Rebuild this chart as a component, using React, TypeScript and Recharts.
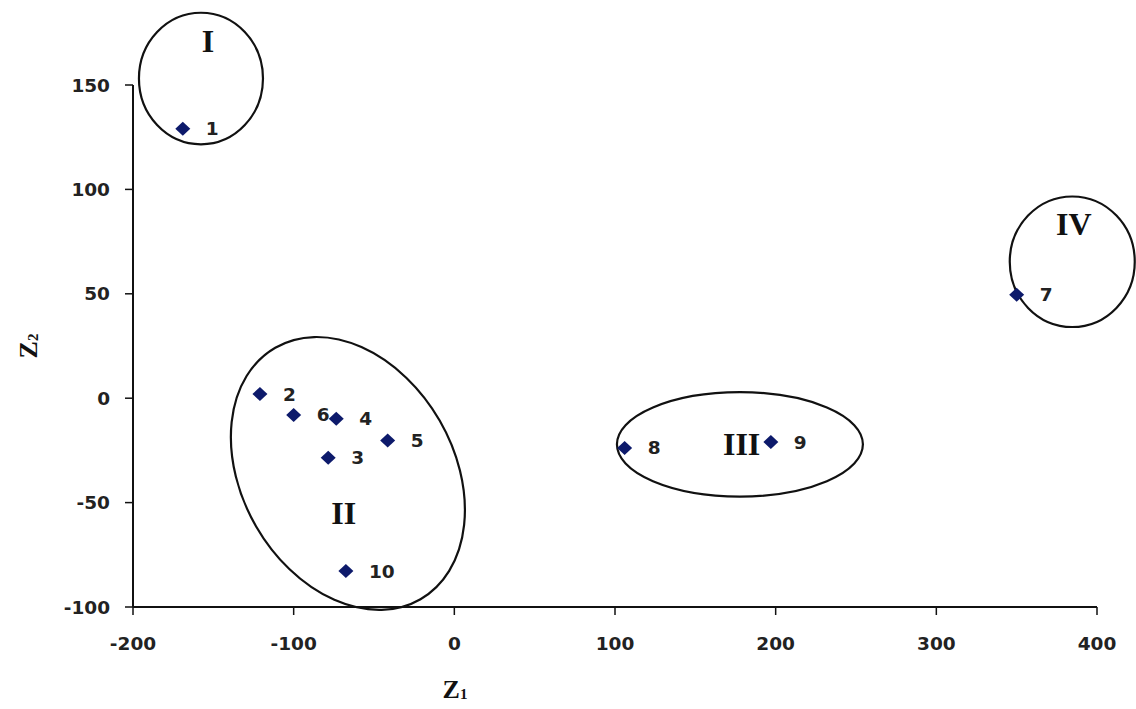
import React from 'react';
import { ScatterChart, Scatter, XAxis, YAxis, ReferenceArea, ReferenceDot } from 'recharts';

const pointIds = ['1', '2', '3', '4', '5', '6', '7', '8', '9', '10'];
const z1Values = [-169, -121, -78.5, -73.5, -41.5, -100, 350, 106, 197, -67.5];
const z2Values = [129, 2, -28.5, -9.8, -20.2, -8, 49.5, -23.8, -21, -82.8];

const xTicks = [-200, -100, 0, 100, 200, 300, 400];
const yTicks = [-100, -50, 0, 50, 100, 150];

// cluster ellipses: bounding box (unrotated) in data units + tilt in degrees
const clusterNames = ['I', 'II', 'III', 'IV'];
const clusterX1 = [-196.3, -132.2, 101.2, 345.7];
const clusterX2 = [-119.1, -0.3, 254.3, 423.5];
const clusterY1 = [121.6, -105.6, -47.1, 34.1];
const clusterY2 = [184.6, 33.5, 2.9, 96.6];
const clusterTilt = [0, -30, 0, 0];
const clusterLabelX = [-153.3, -68.9, 178.8, 385.6];
const clusterLabelY = [171.2, -55.1, -21.9, 83.2];

const points = pointIds.map((id, i) => ({ id, z1: z1Values[i], z2: z2Values[i] }));
const clusters = clusterNames.map((name, i) => ({
  name,
  x1: clusterX1[i],
  x2: clusterX2[i],
  y1: clusterY1[i],
  y2: clusterY2[i],
  tilt: clusterTilt[i],
  lx: clusterLabelX[i],
  ly: clusterLabelY[i],
}));

const tickFont = { fontFamily: 'DejaVu Sans', fontWeight: 'bold', fontSize: 18.5, fill: '#222' };

const DiamondPoint = (props: any) => {
  const { cx, cy, payload } = props;
  const w = 7.5;
  const h = 7;
  return (
    <g>
      <polygon
        points={`${cx},${cy - h} ${cx + w},${cy} ${cx},${cy + h} ${cx - w},${cy}`}
        fill="#0d1a6b"
      />
      <text
        x={cx + 23}
        y={cy}
        dominantBaseline="central"
        textAnchor="start"
        {...tickFont}
      >
        {payload.id}
      </text>
    </g>
  );
};

const makeEllipse = (tilt: number) => (props: any) => {
  const { x, y, width, height } = props;
  const cx = x + width / 2;
  const cy = y + height / 2;
  return (
    <ellipse
      cx={cx}
      cy={cy}
      rx={Math.abs(width) / 2}
      ry={Math.abs(height) / 2}
      fill="none"
      stroke="#111"
      strokeWidth={2.2}
      transform={`rotate(${tilt} ${cx} ${cy})`}
    />
  );
};

const RomanLabel = (name: string) => (props: any) => {
  const { cx, cy } = props;
  return (
    <text
      x={cx}
      y={cy}
      textAnchor="middle"
      dominantBaseline="central"
      fontFamily="Liberation Serif"
      fontWeight="bold"
      fontSize={32}
      fill="#111"
    >
      {name}
    </text>
  );
};

const YLabel = (props: any) => {
  const { viewBox } = props;
  const x = viewBox.x + 28;
  const y = viewBox.y + viewBox.height / 2;
  return (
    <text
      x={x}
      y={y}
      transform={`rotate(-90 ${x} ${y})`}
      textAnchor="middle"
      dominantBaseline="central"
      fontFamily="Liberation Serif"
      fontWeight="bold"
      fontSize={26}
      fill="#111"
    >
      Z<tspan fontSize={15} dy={5}>2</tspan>
    </text>
  );
};

const XLabel = (props: any) => {
  const { viewBox } = props;
  const x = viewBox.x + 322;
  const y = viewBox.y + 82;
  return (
    <text
      x={x}
      y={y}
      textAnchor="middle"
      dominantBaseline="central"
      fontFamily="Liberation Serif"
      fontWeight="bold"
      fontSize={26}
      fill="#111"
    >
      Z<tspan fontSize={15} dy={5}>1</tspan>
    </text>
  );
};

export default function App() {
  return (
    <div style={{ position: 'absolute', left: 0, top: 0, width: 1136, height: 709, background: '#fff' }}>
      <ScatterChart width={1136} height={709} margin={{ top: 85, right: 39, bottom: 0, left: 0 }}>
        <XAxis
          type="number"
          dataKey="z1"
          domain={[-200, 400]}
          ticks={xTicks}
          allowDataOverflow
          height={102}
          axisLine={{ stroke: '#111', strokeWidth: 2 }}
          tickLine={{ stroke: '#111', strokeWidth: 1.5 }}
          tickSize={8}
          tickMargin={22}
          tick={tickFont}
          label={<XLabel />}
        />
        <YAxis
          type="number"
          dataKey="z2"
          domain={[-100, 150]}
          ticks={yTicks}
          allowDataOverflow
          width={133}
          axisLine={{ stroke: '#111', strokeWidth: 2 }}
          tickLine={{ stroke: '#111', strokeWidth: 1.5 }}
          tickSize={8}
          tickMargin={15}
          tick={tickFont}
          label={<YLabel />}
        />
        {clusters.map((c) => (
          <ReferenceArea
            key={c.name}
            x1={c.x1}
            x2={c.x2}
            y1={c.y1}
            y2={c.y2}
            ifOverflow="visible"
            shape={makeEllipse(c.tilt)}
          />
        ))}
        {clusters.map((c) => (
          <ReferenceDot
            key={'l' + c.name}
            x={c.lx}
            y={c.ly}
            r={0}
            ifOverflow="visible"
            shape={RomanLabel(c.name)}
          />
        ))}
        <Scatter data={points} dataKey="z2" isAnimationActive={false} shape={<DiamondPoint />} />
      </ScatterChart>
    </div>
  );
}
